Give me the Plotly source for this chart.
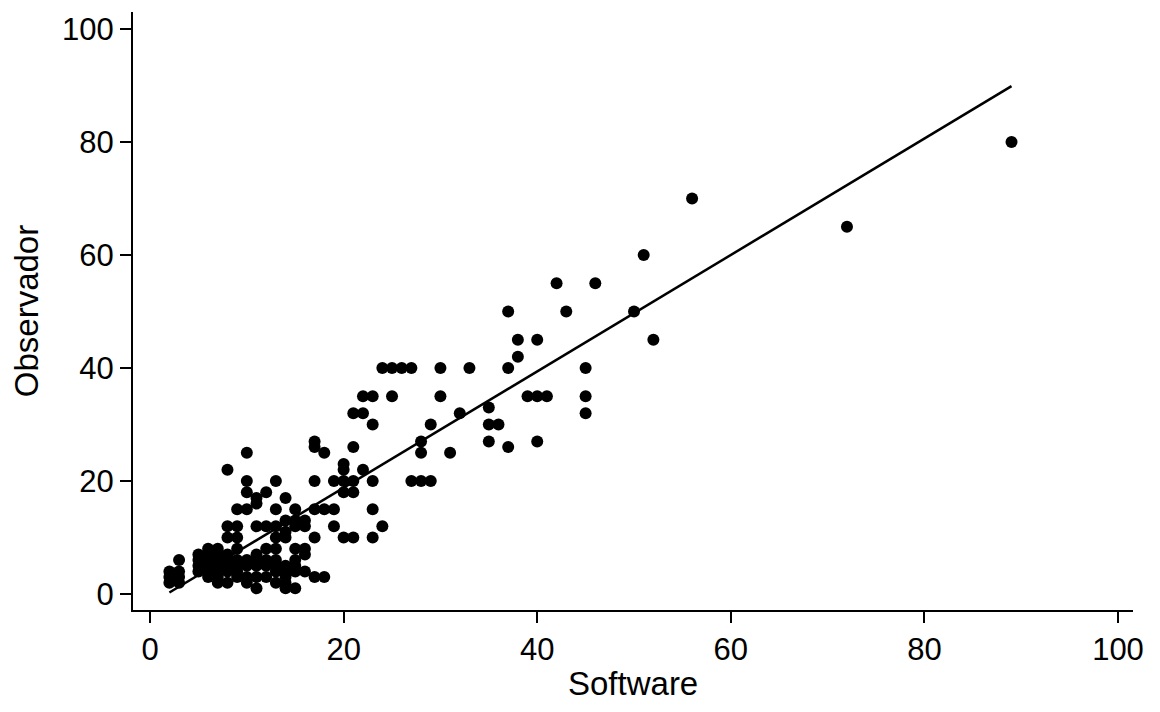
import plotly.graph_objects as go

# Software (x) vs Observador (y) readings
software = [
    2, 2, 2, 3, 3, 3, 3,
    5, 5, 5, 5,
    6, 6, 6, 6, 6, 6,
    7, 7, 7, 7, 7, 7, 7,
    8, 8, 8, 8, 8,
    9, 9, 9, 9, 9,
    10, 10, 10, 10,
    11, 11, 11, 11, 11,
    12, 12, 12, 12,
    13, 13, 13, 13, 13,
    14, 14, 14, 14, 14,
    15, 15, 15, 15, 15,
    16, 16, 16,
    17, 18,
    8, 10, 10, 10, 11, 11, 12, 13, 14,
    9, 10, 13, 15, 17, 18, 19, 23,
    8, 9, 8, 9,
    11, 12, 13, 14, 14,
    15, 15, 16, 16,
    13, 14, 17, 19, 20, 21, 23, 24,
    17, 17, 18, 21, 20, 20, 22,
    17, 19, 20, 21, 23, 20, 21,
    21, 22, 22, 23, 23, 25,
    24, 25, 26, 27, 30, 33, 37, 45,
    30, 39, 40, 41, 45, 45, 35, 32,
    29, 35, 36, 28, 28, 31, 35, 37, 40,
    27, 28, 29,
    38, 38, 40, 37, 43, 50, 42, 46, 52,
    51, 56, 72, 89,
]
observador = [
    2, 3, 4, 2, 3, 4, 6,
    4, 5, 6, 7,
    3, 4, 5, 6, 7, 8,
    2, 3, 4, 5, 6, 7, 8,
    2, 4, 5, 6, 7,
    3, 4, 5, 6, 8,
    2, 3, 5, 6,
    1, 3, 5, 6, 7,
    3, 5, 6, 8,
    2, 4, 5, 6, 8,
    1, 2, 3, 4, 5,
    1, 4, 5, 6, 8,
    4, 7, 8,
    3, 3,
    22, 25, 20, 18, 17, 16, 18, 20, 17,
    15, 15, 15, 15, 15, 15, 15, 15,
    12, 12, 10, 10,
    12, 12, 12, 13, 11,
    12, 13, 12, 13,
    10, 10, 10, 12, 10, 10, 10, 12,
    27, 26, 25, 26, 23, 22, 22,
    20, 20, 20, 20, 20, 18, 18,
    32, 32, 35, 35, 30, 35,
    40, 40, 40, 40, 40, 40, 40, 40,
    35, 35, 35, 35, 35, 32, 33, 32,
    30, 30, 30, 27, 25, 25, 27, 26, 27,
    20, 20, 20,
    42, 45, 45, 50, 50, 50, 55, 55, 45,
    60, 70, 65, 80,
]

# Fitted line
fit_x = [2, 89]
fit_slope = 1.03
fit_intercept = -1.8
fit_y = [fit_slope * v + fit_intercept for v in fit_x]

tick_vals = [0, 20, 40, 60, 80, 100]
tick_text = ["0", "20", "40", "60", "80", "100"]

x_title = "Software"
y_title = "Observador"

FONT = "Liberation Sans, Arial, sans-serif"

fig = go.Figure()
fig.add_trace(go.Scatter(
    x=software, y=observador, mode="markers",
    marker=dict(color="black", size=12, line=dict(width=0)),
    showlegend=False,
))
fig.add_trace(go.Scatter(
    x=fit_x, y=fit_y, mode="lines",
    line=dict(color="black", width=2.5),
    showlegend=False,
))

axis_common = dict(
    showline=True, linecolor="black", linewidth=2,
    ticks="outside", ticklen=11, tickwidth=2, tickcolor="black",
    showgrid=False, zeroline=False, mirror=False,
    tickvals=tick_vals, ticktext=tick_text,
    tickfont=dict(family=FONT, size=31, color="black"),
    automargin=False,
)

fig.update_layout(
    width=1144, height=696,
    paper_bgcolor="white", plot_bgcolor="white",
    margin=dict(l=125, r=19, t=4, b=94),
    xaxis=dict(range=[-1.76, 101.55], **axis_common),
    yaxis=dict(
        range=[-2.83, 103.0],
        title=dict(text=y_title, standoff=16,
                   font=dict(family=FONT, size=33, color="black")),
        **axis_common,
    ),
    annotations=[dict(
        text=x_title, xref="paper", yref="paper", x=0.5, y=-0.155,
        xanchor="center", yanchor="bottom", showarrow=False, borderpad=0,
        font=dict(family=FONT, size=33, color="black"),
    )],
)

fig.write_html("out.html")
